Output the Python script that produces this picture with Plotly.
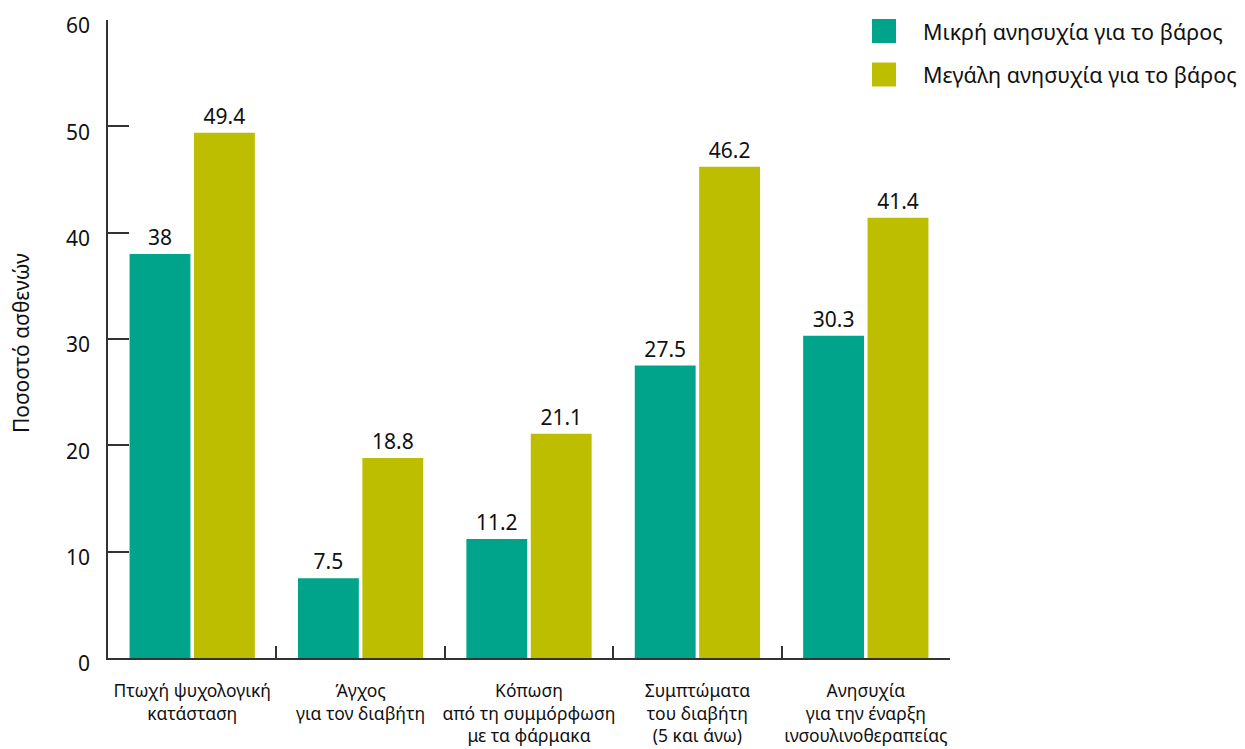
import plotly.graph_objects as go

categories = [
    "Πτωχή ψυχολογική<br>κατάσταση",
    "Άγχος<br>για τον διαβήτη",
    "Κόπωση<br>από τη συμμόρφωση<br>με τα φάρμακα",
    "Συμπτώματα<br>του διαβήτη<br>(5 και άνω)",
    "Ανησυχία<br>για την έναρξη<br>ινσουλινοθεραπείας",
]
series_names = ["Μικρή ανησυχία για το βάρος", "Μεγάλη ανησυχία για το βάρος"]
small_concern = [38, 7.5, 11.2, 27.5, 30.3]
big_concern = [49.4, 18.8, 21.1, 46.2, 41.4]
y_ticks = [0, 10, 20, 30, 40, 50, 60]

colors = ["#00A48A", "#BDBE00"]
FONT = "Noto Sans"

W, H = 1245, 749
L, R, T, B = 108, 295, 20, 91
pw, ph = W - L - R, H - T - B

fig = go.Figure()
for name, vals, c in zip(series_names, [small_concern, big_concern], colors):
    fig.add_trace(go.Bar(
        x=categories, y=vals, name=name, marker_color=c, marker_line_width=0,
        texttemplate="%{y}", textposition="outside", cliponaxis=False,
        textfont=dict(size=21, color="#111", family=FONT), showlegend=False,
    ))

def px2paper_x(x):
    return (x - L) / pw

def px2paper_y(y):
    return 1 - (y - T) / ph

shapes = []
annotations = []
for i, (name, c) in enumerate(zip(series_names, colors)):
    cy = 31 + i * 43.5
    shapes.append(dict(type="rect", xref="paper", yref="paper",
                       x0=px2paper_x(872), x1=px2paper_x(896),
                       y0=px2paper_y(cy + 12), y1=px2paper_y(cy - 12),
                       fillcolor=c, line_width=0))
    annotations.append(dict(xref="paper", yref="paper", x=px2paper_x(921), y=px2paper_y(cy),
                            text=name, showarrow=False, xanchor="left", yanchor="middle",
                            font=dict(size=21.5, color="#111", family=FONT)))

annotations.append(dict(xref="paper", yref="paper", x=px2paper_x(21), y=px2paper_y(343),
                        text="Ποσοστό ασθενών", textangle=-90, showarrow=False,
                        xanchor="center", yanchor="middle",
                        font=dict(size=21, color="#111", family=FONT)))

fig.update_layout(
    width=W, height=H,
    margin=dict(l=L, r=R, t=T, b=B),
    paper_bgcolor="white", plot_bgcolor="white",
    barmode="group", bargap=0.235, bargroupgap=0.055,
    font=dict(family=FONT, color="#111"),
    shapes=shapes, annotations=annotations,
    xaxis=dict(type="category", showline=True, linecolor="#333", linewidth=1.5,
               ticks="inside", tickson="boundaries", ticklen=12, tickcolor="#333", tickwidth=1.5,
               showgrid=False, tickfont=dict(size=17.5, color="#111", family=FONT),
               tickangle=0, automargin=False, ticklabelstandoff=16),
    yaxis=dict(range=[0, 60], tickvals=y_ticks, showline=True, linecolor="#333", linewidth=1.5,
               ticks="inside", ticklen=21, tickcolor="#333", tickwidth=1.5,
               showgrid=False, zeroline=False, automargin=False,
               tickfont=dict(size=21, color="#111", family=FONT), ticklabelstandoff=12,
               ticklabelshift=6),
)

fig.write_html("out.html")
